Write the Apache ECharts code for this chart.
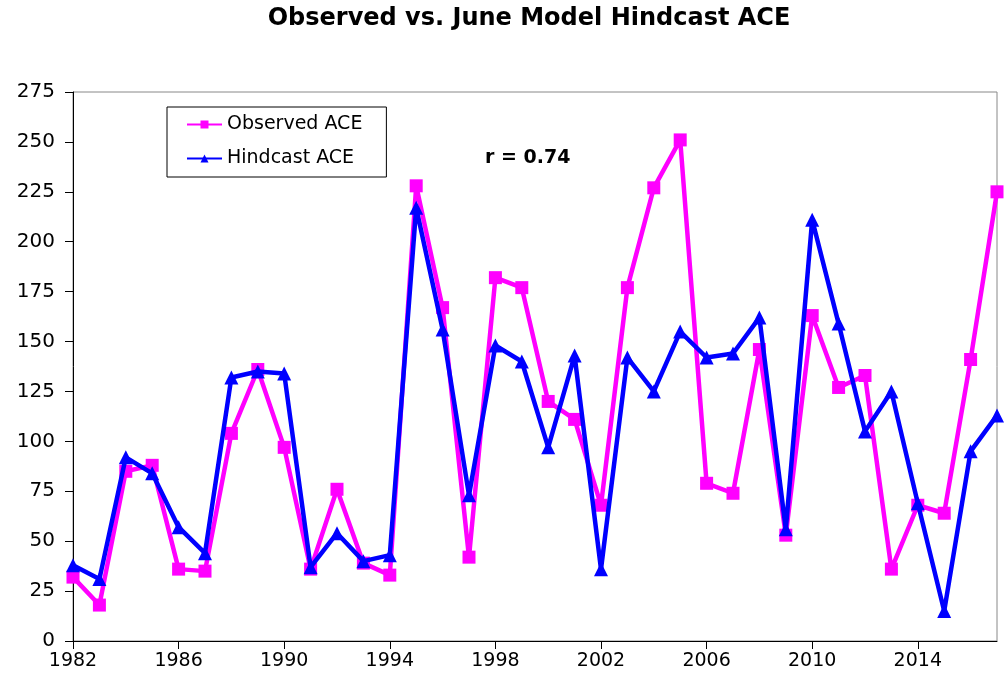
<!DOCTYPE html>
<html>
<head>
<meta charset="utf-8">
<script src="https://cdn.jsdelivr.net/npm/echarts@6/dist/echarts.min.js"></script>
<style>
  html, body { margin: 0; padding: 0; background: #fff; }
  #chart { width: 1008px; height: 686px; }
</style>
</head>
<body>
<div id="chart"></div>
<script>
const years = []
for (let y = 1982; y <= 2017; y++) years.push(String(y))

const observed = [32, 18, 85, 88, 36, 35, 104, 136, 97, 36, 76, 39, 33, 228,
  167, 42, 182, 177, 120, 111, 68, 177, 227, 251, 79, 74, 146, 53, 163, 127,
  133, 36, 68, 64, 141, 225]

const hindcast = [38, 31, 92, 84, 57, 44, 132, 135, 134, 37, 54, 40, 43, 217,
  156, 73, 148, 140, 97, 143, 36, 142, 125, 155, 142, 144, 162, 56, 211, 159,
  105, 125, 69, 15, 95, 113]

const font = 'DejaVu Sans, Arial, sans-serif'

const chart = echarts.init(document.getElementById('chart'))
chart.setOption({
  animation: false,
  title: {
    text: 'Observed vs. June Model Hindcast ACE',
    left: 524,
    textAlign: 'center',
    top: 2,
    textStyle: { fontFamily: font, fontSize: 24, fontWeight: 'bold', color: '#000' }
  },
  graphic: [{
    type: 'text',
    left: 485,
    top: 149,
    style: { text: 'r = 0.74', font: 'bold 19px ' + font, fill: '#000' }
  }],
  legend: {
    left: 167,
    top: 107,
    orient: 'vertical',
    padding: [8, 24, 9, 19],
    itemGap: 15,
    itemWidth: 35,
    itemHeight: 10,
    borderColor: '#000',
    borderWidth: 1,
    textStyle: { fontFamily: font, fontSize: 19, color: '#000', padding: [0, 0, 0, 0] },
    data: ['Observed ACE', 'Hindcast ACE']
  },
  grid: {
    left: 73,
    right: 11,
    top: 92,
    bottom: 45,
    show: true,
    borderColor: '#888',
    borderWidth: 1
  },
  xAxis: {
    type: 'category',
    data: years,
    boundaryGap: false,
    axisLine: { lineStyle: { color: '#000', width: 1 } },
    axisTick: { interval: 3, length: 8, lineStyle: { color: '#000' } },
    axisLabel: { interval: 3, fontFamily: font, fontSize: 19, color: '#000', margin: 11 },
    splitLine: { show: false }
  },
  yAxis: {
    type: 'value',
    min: 0,
    max: 275,
    interval: 25,
    axisLine: { show: true, lineStyle: { color: '#000', width: 1 } },
    axisTick: { show: true, length: 8, lineStyle: { color: '#000' } },
    axisLabel: { fontFamily: font, fontSize: 20, color: '#000', margin: 18 },
    splitLine: { show: false }
  },
  series: [
    {
      name: 'Observed ACE',
      type: 'line',
      data: observed,
      symbol: 'rect',
      symbolSize: 13,
      color: '#FF00FF',
      lineStyle: { width: 4.5, color: '#FF00FF' },
      itemStyle: { color: '#FF00FF' },
      z: 2
    },
    {
      name: 'Hindcast ACE',
      type: 'line',
      data: hindcast,
      symbol: 'triangle',
      symbolSize: 14,
      color: '#0000FF',
      lineStyle: { width: 4.5, color: '#0000FF' },
      itemStyle: { color: '#0000FF' },
      z: 3
    }
  ]
})
</script>
</body>
</html>
